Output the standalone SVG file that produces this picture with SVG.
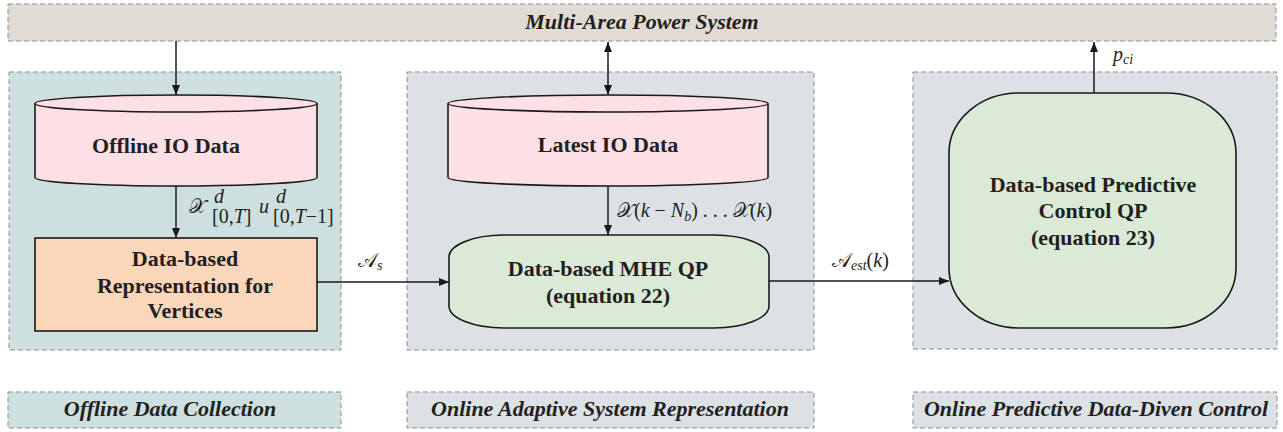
<svg xmlns="http://www.w3.org/2000/svg" width="1283" height="432" viewBox="0 0 1283 432">
<style>
.dash{stroke:#8f8f8f;stroke-width:1;stroke-dasharray:5,3}
.bar{fill:#e0dcd5}
.p1{fill:#cddfdf}
.p2{fill:#dbe1e4}
.node{stroke:#1a1a1a;stroke-width:1.6}
.cyl{fill:#fde0e6}
.rep{fill:#fad6bb}
.qp{fill:#dbead7}
.t{font-family:"Liberation Serif",serif;font-weight:bold;font-size:22px;fill:#231f20;text-anchor:middle}
.ti{font-family:"Liberation Serif",serif;font-weight:bold;font-style:italic;font-size:22px;fill:#231f20;text-anchor:middle}
.m{font-family:"Liberation Serif","DejaVu Serif",serif;font-size:20px;fill:#231f20}
.mi{font-style:italic}
.c{stroke:#1a1a1a;stroke-width:1.5;fill:none}
</style>
<defs>
<marker id="ah" viewBox="0 0 10 8" refX="10" refY="4" markerWidth="10" markerHeight="8" markerUnits="userSpaceOnUse" orient="auto-start-reverse">
<path d="M0,0 L10,4 L0,8 z" fill="#1a1a1a"/>
</marker>
</defs>

<g id="system">
<rect x="8" y="4" width="1268" height="37" class="bar dash"/>
<text x="642" y="29" class="ti">Multi-Area Power System</text>
</g>

<g id="panel-offline">
<rect x="9" y="72" width="332" height="278" class="p1 dash"/>
</g>
<g id="panel-adaptive">
<rect x="407" y="72" width="407" height="278" class="p2 dash"/>
</g>
<g id="panel-control">
<rect x="913" y="72" width="364" height="277" class="p2 dash"/>
</g>

<g id="offline-io">
<path d="M35,103.5 L35,177.5 A141,8.5 0 0 0 317,177.5 L317,103.5" class="cyl node"/>
<ellipse cx="176" cy="103.5" rx="141" ry="8.5" class="cyl node"/>
<text x="166" y="153" class="t">Offline IO Data</text>
</g>

<g id="representation">
<rect x="35" y="238" width="282" height="93" class="rep node"/>
<text x="185" y="266" class="t">Data-based</text>
<text x="185" y="293" class="t">Representation for</text>
<text x="185" y="318" class="t">Vertices</text>
</g>

<g id="latest-io">
<path d="M448,103.5 L448,177.5 A160,8.5 0 0 0 768,177.5 L768,103.5" class="cyl node"/>
<ellipse cx="608" cy="103.5" rx="160" ry="8.5" class="cyl node"/>
<text x="608" y="152" class="t">Latest IO Data</text>
</g>

<g id="mhe">
<rect x="449" y="235" width="320" height="93" rx="55" ry="22" class="qp node"/>
<text x="608" y="276" class="t">Data-based MHE QP</text>
<text x="608" y="303" class="t">(equation 22)</text>
</g>

<g id="predictive">
<rect x="949" y="93" width="287" height="235" rx="70" ry="60" class="qp node"/>
<text x="1093" y="192" class="t">Data-based Predictive</text>
<text x="1093" y="218" class="t">Control QP</text>
<text x="1093" y="245" class="t">(equation 23)</text>
</g>

<g id="label-offline">
<rect x="8" y="392" width="333" height="36" class="p1 dash"/>
<text x="170" y="416" class="ti">Offline Data Collection</text>
</g>
<g id="label-adaptive">
<rect x="407" y="392" width="407" height="36" class="p2 dash"/>
<text x="610" y="416" class="ti">Online Adaptive System Representation</text>
</g>
<g id="label-control">
<rect x="913" y="392" width="364" height="36" class="p2 dash"/>
<text x="1096" y="416" class="ti">Online Predictive Data-Diven Control</text>
</g>

<g id="connectors">
<line x1="176" y1="41" x2="176" y2="95" class="c" marker-end="url(#ah)"/>
<line x1="608" y1="42" x2="608" y2="95" class="c" marker-start="url(#ah)" marker-end="url(#ah)"/>
<line x1="176" y1="186" x2="176" y2="238" class="c" marker-end="url(#ah)"/>
<line x1="608" y1="186" x2="608" y2="235" class="c" marker-end="url(#ah)"/>
<line x1="317" y1="282" x2="449" y2="282" class="c" marker-end="url(#ah)"/>
<line x1="769" y1="281" x2="949" y2="281" class="c" marker-end="url(#ah)"/>
<line x1="1094" y1="93" x2="1094" y2="42" class="c" marker-end="url(#ah)"/>

<text x="189" y="213" class="m" font-size="18">𝒳</text>
<text x="214" y="203" class="m mi" font-size="13">d</text>
<text x="212" y="223" class="m" font-size="14">[0,<tspan class="mi">T</tspan>]</text>
<text x="259" y="213" class="m mi">u</text>
<text x="276" y="203" class="m mi" font-size="13">d</text>
<text x="273" y="223" class="m" font-size="14">[0,<tspan class="mi">T</tspan>−1]</text>

<text x="617" y="217" class="m">𝒳(<tspan class="mi">k</tspan> − <tspan class="mi">N</tspan><tspan font-size="14" dy="4" class="mi">b</tspan><tspan dy="-4">) . . . 𝒳(</tspan><tspan class="mi">k</tspan>)</text>

<text x="358" y="267" class="m">𝒜<tspan font-size="14" dy="3" class="mi">s</tspan></text>
<text x="832" y="267" class="m">𝒜<tspan font-size="14" dy="3" class="mi">est</tspan><tspan dy="-3">(</tspan><tspan class="mi">k</tspan>)</text>
<text x="1113" y="61" class="m"><tspan class="mi">p</tspan><tspan font-size="14" dy="3" class="mi">ci</tspan></text>
</g>
</svg>
